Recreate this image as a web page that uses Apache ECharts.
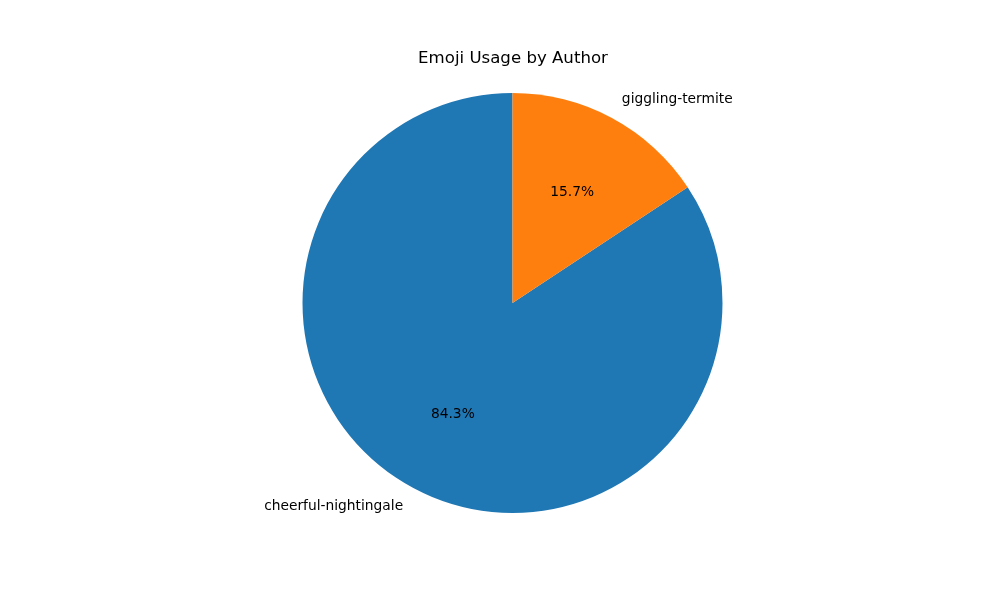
<!DOCTYPE html>
<html>
<head>
<meta charset="utf-8">
<style>html,body{margin:0;padding:0;background:#fff}#c{width:1000px;height:600px}</style>
<script src="https://cdn.jsdelivr.net/npm/echarts@6/dist/echarts.min.js"></script>
</head>
<body>
<div id="c"></div>
<script>
const authors = ['cheerful-nightingale', 'giggling-termite'];
const shares = [84.3, 15.7];
const colours = ['#1f77b4', '#ff7f0e'];
const titleText = 'Emoji Usage by Author';
const font = '"DejaVu Sans"';

const rows = authors.map((name, i) => ({ name, value: shares[i] }));
const chart = echarts.init(document.getElementById('c'), null, { renderer: 'canvas' });
chart.setOption({
  animation: false,
  backgroundColor: '#ffffff',
  color: colours,
  title: {
    text: titleText,
    left: 508,
    top: 45,
    textAlign: 'center',
    textStyle: { fontFamily: font, fontSize: 16.6, fontWeight: 'normal', color: '#000' }
  },
  series: [
    {
      type: 'pie',
      center: [512.5, 303],
      radius: [0, 210],
      startAngle: 90,
      clockwise: false,
      data: rows,
      silent: true,
      itemStyle: { borderWidth: 0 },
      labelLine: { show: false, length: 21, length2: 0 },
      label: {
        show: true,
        position: 'outside',
        distanceToLabelLine: 0,
        formatter: '{b}',
        fontFamily: font,
        fontSize: 13.8,
        color: '#000'
      }
    },
    {
      type: 'pie',
      center: [512.5, 303],
      radius: [0, 246],
      startAngle: 90,
      clockwise: false,
      data: rows,
      silent: true,
      itemStyle: { color: 'rgba(0,0,0,0)', borderWidth: 0 },
      labelLine: { show: false },
      percentPrecision: 1,
      label: {
        show: true,
        position: 'inside',
        formatter: '{d}%',
        fontFamily: font,
        fontSize: 13.8,
        color: '#000'
      }
    }
  ]
});
</script>
</body>
</html>
